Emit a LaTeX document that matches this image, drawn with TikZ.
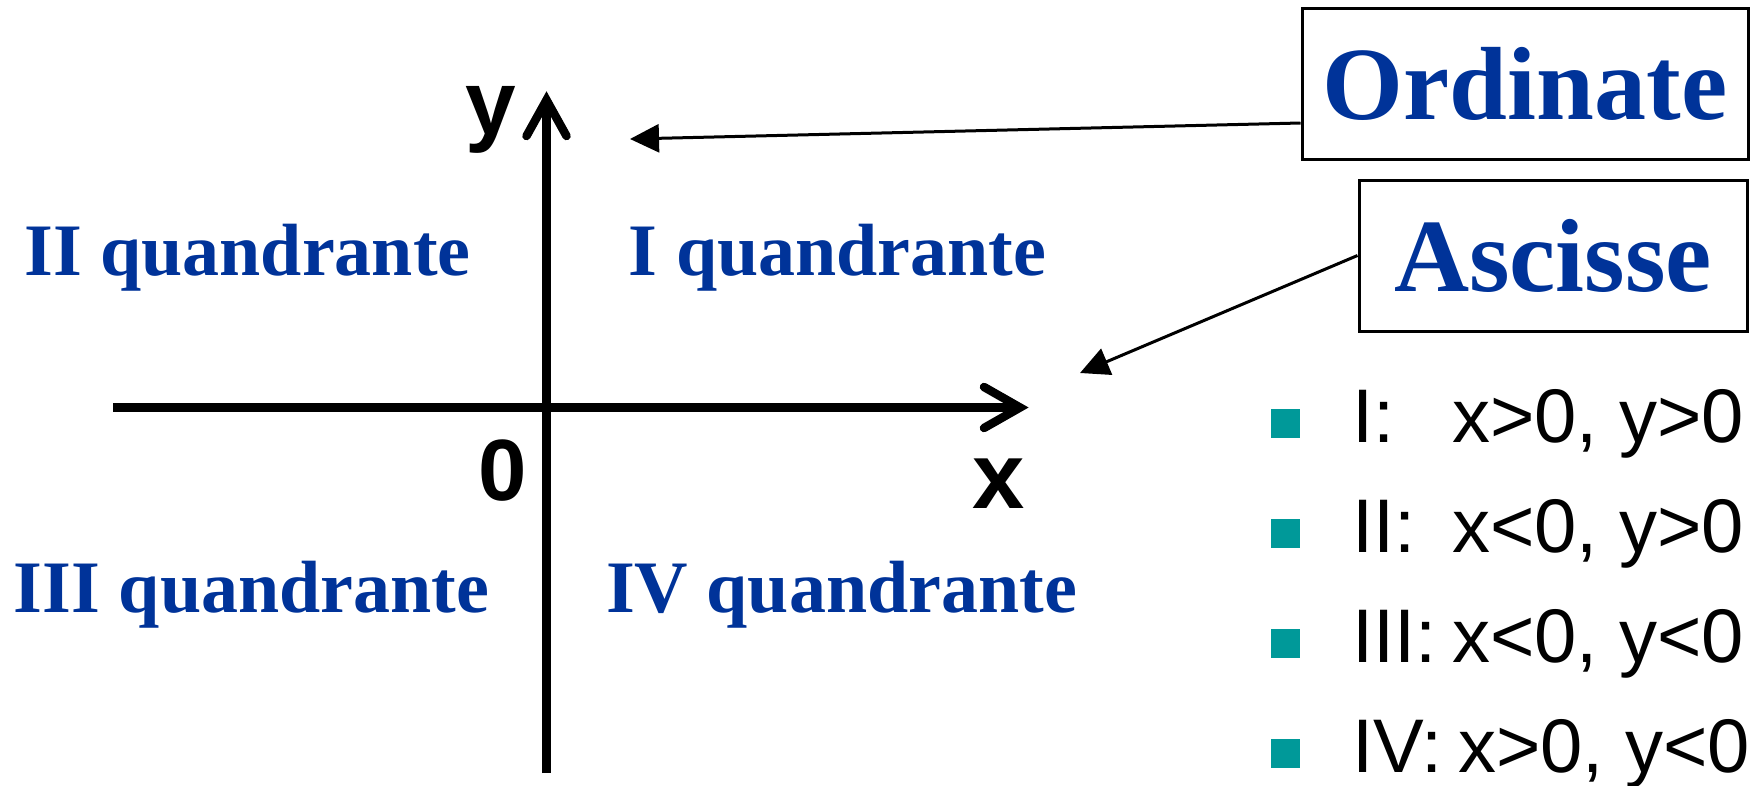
\documentclass[tikz,border=0pt]{standalone}
\usepackage{fontspec}
\setmainfont{Liberation Serif}
\setsansfont{Liberation Sans}
\usetikzlibrary{arrows.meta,calc}
\definecolor{qblue}{RGB}{0,51,153}
\definecolor{tealsq}{RGB}{0,153,153}
\begin{document}
\begin{tikzpicture}[x=1pt,y=-1pt,
  axis/.style={line width=8.5pt, line cap=butt},
  barb/.style={line width=8.5pt, line cap=round, line join=miter},
  quad/.style={font=\fontsize{74}{80}\selectfont\bfseries, text=qblue, anchor=base, inner sep=0pt},
  axlabel/.style={font=\sffamily\bfseries\fontsize{94}{100}\selectfont, anchor=base, inner sep=0pt},
  namebox/.style={draw, line width=3pt, minimum height=151pt, font=\fontsize{104}{110}\selectfont\bfseries, text=qblue, inner sep=0pt},
  callout/.style={line width=3pt, -{Triangle[length=29pt,width=28pt]}},
  sqbullet/.style={fill=tealsq, minimum size=29pt, inner sep=0pt},
  cond/.style={font=\sffamily\fontsize{76}{80}\selectfont, anchor=base west, inner sep=0pt}
]
\useasboundingbox (0,0) rectangle (1758,785);

% axes
\coordinate (O) at (546.5,407.5);
\coordinate (xl) at (113,407.5);
\coordinate (xr) at (1020,407.5);
\coordinate (yb) at (546.5,773);
\coordinate (yt) at (546.5,100);
\draw[axis] (xl) -- (xr);
\draw[axis] (yb) -- (yt);
\draw[barb] ($(xr)+(-36,-20.5)$) -- (xr) -- ($(xr)+(-36,20.5)$);
\draw[barb] ($(yt)+(-20,36)$) -- (yt) -- ($(yt)+(20,36)$);

% axis labels
\node[axlabel, font=\sffamily\bfseries\fontsize{91}{100}\selectfont] (ylab) at (491,134) {y};
\node[axlabel] (xlab) at (998.5,508) {x};
\node[axlabel, font=\sffamily\bfseries\fontsize{87}{90}\selectfont] (zero) at (502.5,500) {0};

% quadrant labels
\node[quad] (q2) at (247.5,275) {II quandrante};
\node[quad] (q1) at (837.5,275) {I quandrante};
\node[quad] (q3) at (251.5,612) {III quandrante};
\node[quad] (q4) at (841.5,612) {IV quandrante};

% name boxes
\node[namebox, minimum width=446pt] (ord) at (1525,83.5) {Ordinate};
\node[namebox, minimum width=388pt] (asc) at (1553,255.5) {Ascisse};

\coordinate (ordtip) at (630,139);
\coordinate (asctip) at (1080,373);
\draw[callout] ([yshift=-39.5pt]ord.west) -- (ordtip);
\draw[callout] (asc.west) -- (asctip);

% bullet list
\node[sqbullet] (b1) at (1285.5,423.5) {};
\node[sqbullet] (b2) at (1285.5,533.5) {};
\node[sqbullet] (b3) at (1285.5,643.5) {};
\node[sqbullet] (b4) at (1285.5,753.5) {};
\node[cond] (c1) at (1352,442) {\makebox[100pt][l]{I:}x>0, y>0};
\node[cond] (c2) at (1352,552) {\makebox[100pt][l]{II:}x<0, y>0};
\node[cond] (c3) at (1352,662) {\makebox[100pt][l]{III:}x<0, y<0};
\node[cond] (c4) at (1352,772) {\makebox[106pt][l]{IV:}x>0, y<0};
\end{tikzpicture}
\end{document}
